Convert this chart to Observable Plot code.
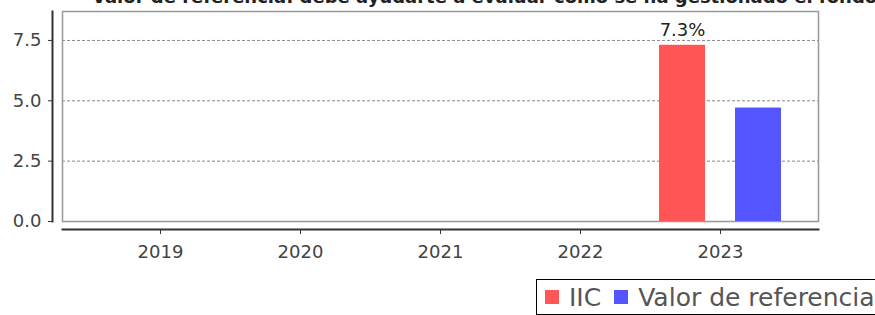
<!DOCTYPE html>
<html><head><meta charset="utf-8">
<script src="https://cdn.jsdelivr.net/npm/d3@7"></script>
<script src="https://cdn.jsdelivr.net/npm/@observablehq/plot@0.6"></script>
<style>
html,body{margin:0;padding:0;background:#fff;overflow:hidden;width:875px;height:315px}
#wrap{position:relative;width:875px;height:315px;overflow:hidden;font-family:"DejaVu Sans",sans-serif}
#title{position:absolute;left:92px;top:-13px;font-size:18px;line-height:20px;font-weight:bold;color:#222;white-space:nowrap;z-index:2}
#chart{position:absolute;left:0;top:0;z-index:1}
#legend{position:absolute;left:536px;top:279px;width:360px;height:36px;border:1px solid #000;box-sizing:border-box;background:#fff;display:flex;align-items:center;padding-left:8px;font-size:25px;color:#555;white-space:nowrap}
.sw{display:inline-block;width:14px;height:14px;margin-right:10px}
.item{display:inline-flex;align-items:center;margin-right:13px}
</style></head>
<body><div id="wrap">
<div id="title">Valor de referencia: debe ayudarte a evaluar cómo se ha gestionado el fondo en</div>
<div id="chart"></div>
<div id="legend"></div>
</div>
<script>
const years = ["2019", "2020", "2021", "2022", "2023"];
const series = ["IIC", "Valor de referencia"];
const iicValues = [null, null, null, null, 7.3];
const refValues = [null, null, null, null, 4.7];
const colors = ["#FF5555", "#5555FF"];
const yTicks = [0, 2.5, 5, 7.5];

const iicData = years.map((yr, i) => ({year: yr, series: series[0], value: iicValues[i]})).filter(d => d.value != null);
const refData = years.map((yr, i) => ({year: yr, series: series[1], value: refValues[i]})).filter(d => d.value != null);

const chart = Plot.plot({
  width: 875,
  height: 270,
  marginTop: 11,
  marginBottom: 49,
  marginLeft: 62,
  marginRight: 57,
  style: {fontFamily: "DejaVu Sans, sans-serif", fontSize: "18px", color: "#444", background: "transparent"},
  x: {domain: years, paddingInner: 0, paddingOuter: 0.2, axis: null, label: null},
  y: {domain: [0, 8.7], axis: null},
  color: {domain: series, range: colors},
  marks: [
    Plot.ruleY(yTicks.filter(d => d > 0), {stroke: "#888", strokeDasharray: "3,2", strokeWidth: 1}),
    Plot.frame({stroke: "#999", strokeWidth: 1.5}),
    Plot.frame({anchor: "left", dx: -10, stroke: "#333", strokeWidth: 2}),
    Plot.frame({anchor: "bottom", dy: 8, stroke: "#333", strokeWidth: 2}),
    Plot.axisY({ticks: yTicks, tickFormat: d3.format(".1f"), tickSize: 4, tickPadding: 7, dx: -10, label: null, fontSize: 18, stroke: "#333"}),
    Plot.axisX({anchor: "bottom", tickSize: 5, tickPadding: 11, dy: 8, label: null, fontSize: 18, stroke: "#333"}),
    Plot.barY(iicData, {x: "year", y: "value", fill: "series", dx: -38, insetLeft: 47, insetRight: 47}),
    Plot.barY(refData, {x: "year", y: "value", fill: "series", dx: 38, insetLeft: 47, insetRight: 47}),
    Plot.text(iicData, {x: "year", y: "value", text: d => d.value.toFixed(1) + "%", lineAnchor: "bottom", dx: -38, dy: -9, fontSize: 18, fill: "#222"})
  ]
});
document.getElementById("chart").appendChild(chart);

const legend = document.getElementById("legend");
series.forEach((s, i) => {
  const item = document.createElement("span");
  item.className = "item";
  const sw = document.createElement("span");
  sw.className = "sw";
  sw.style.background = colors[i];
  item.appendChild(sw);
  item.appendChild(document.createTextNode(s));
  legend.appendChild(item);
});
</script>
</body></html>
